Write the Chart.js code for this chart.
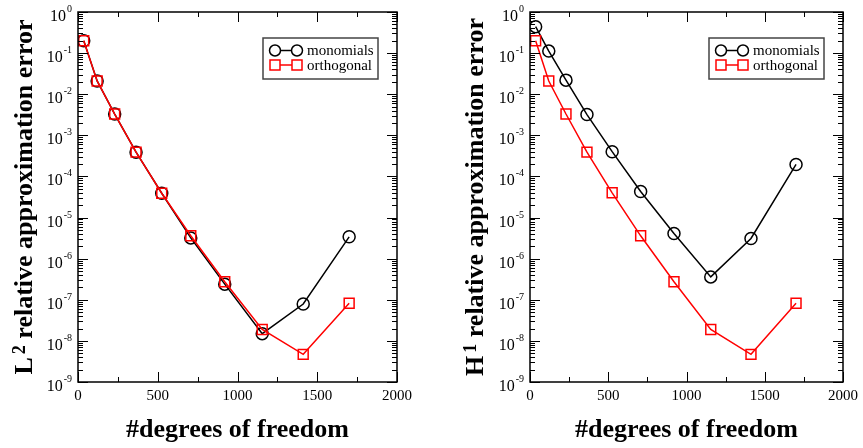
<!DOCTYPE html>
<html>
<head>
<meta charset="utf-8">
<script src="https://cdn.jsdelivr.net/npm/chart.js@4.4.0/dist/chart.umd.min.js"></script>
<style>
html, body { margin: 0; padding: 0; background: #fff; }
#contenedor { position: relative; width: 863px; height: 448px; }
canvas { position: absolute; top: 0; }
</style>
</head>
<body>
<div id="contenedor">
  <canvas id="graficoL2" width="430" height="448" style="left:0"></canvas>
  <canvas id="graficoH1" width="433" height="448" style="left:430px"></canvas>
</div>
<script>
// grados de libertad (eje x)
const grados = [36, 120, 230, 364, 525, 707, 920, 1155, 1412, 1700];

// error L2
const l2Monomios   = [0.2, 0.021, 0.0033, 3.9e-4, 3.9e-5, 3.2e-6, 2.4e-7, 1.5e-8, 7.9e-8, 3.4e-6];
const l2Ortogonal  = [0.2, 0.021, 0.0033, 3.9e-4, 3.9e-5, 3.6e-6, 2.75e-7, 1.9e-8, 4.7e-9, 8.2e-8];

// error H1
const h1Monomios   = [0.44, 0.112, 0.022, 3.2e-3, 4.0e-4, 4.3e-5, 4.1e-6, 3.6e-7, 3.1e-6, 1.96e-4];
const h1Ortogonal  = [0.2, 0.021, 0.0033, 3.9e-4, 4.0e-5, 3.6e-6, 2.75e-7, 1.9e-8, 4.7e-9, 8.2e-8];

const nombresSeries = ['monomials', 'orthogonal'];
const decadas = [1e-9, 1e-8, 1e-7, 1e-6, 1e-5, 1e-4, 1e-3, 1e-2, 1e-1, 1];
const marcasX = [0, 500, 1000, 1500, 2000];

const fuente = '"Liberation Serif", "Times New Roman", serif';

function puntos(valores){
    return grados.map((g, i) => ({x: g, y: valores[i]}));
}

// marco con marcas hacia adentro en los cuatro lados
const marcoPlugin = {
    id: 'marco',
    afterDraw(chart){
        const ctx = chart.ctx;
        const a = chart.chartArea;
        const sx = chart.scales.x, sy = chart.scales.y;
        ctx.save();
        ctx.strokeStyle = '#000';
        ctx.lineWidth = 1.5;
        ctx.strokeRect(a.left, a.top, a.right - a.left, a.bottom - a.top);
        ctx.lineWidth = 1;
        ctx.beginPath();
        for (let v = 0; v <= 2000; v += 250){
            const px = Math.round(sx.getPixelForValue(v)) + 0.5;
            const largo = v % 500 === 0 ? 10 : 5;
            ctx.moveTo(px, a.bottom); ctx.lineTo(px, a.bottom - largo);
            ctx.moveTo(px, a.top); ctx.lineTo(px, a.top + largo);
        }
        decadas.forEach(d => {
            for (let k = 1; k <= 9; k++){
                const v = d * k;
                if (v > 1) break;
                const py = Math.round(sy.getPixelForValue(v)) + 0.5;
                const largo = k === 1 ? 10 : 5;
                ctx.moveTo(a.left, py); ctx.lineTo(a.left + largo, py);
                ctx.moveTo(a.right, py); ctx.lineTo(a.right - largo, py);
            }
        });
        ctx.stroke();

        // etiquetas 10^n del eje y
        ctx.fillStyle = '#000';
        ctx.textAlign = 'left';
        ctx.textBaseline = 'alphabetic';
        sy.ticks.forEach(t => {
            const py = sy.getPixelForValue(t.value);
            const exp = String(Math.round(Math.log10(t.value)));
            ctx.font = '10px ' + fuente;
            const we = ctx.measureText(exp).width;
            ctx.font = '16px ' + fuente;
            const wb = ctx.measureText('10').width;
            const x0 = a.left - 6 - we - 1 - wb;
            ctx.fillText('10', x0, py + 9);
            ctx.font = '10px ' + fuente;
            ctx.fillText(exp, x0 + wb + 1, py);
        });
        ctx.restore();
    }
};

// titulo del eje y con superindice
const tituloYPlugin = {
    id: 'tituloY',
    afterDraw(chart, args, opts){
        const ctx = chart.ctx;
        const a = chart.chartArea;
        const grande = 'bold 26px ' + fuente, chico = 'bold 18px ' + fuente;
        const resto = ' relative approximation error';
        ctx.save();
        ctx.font = grande;
        const w1 = ctx.measureText(opts.letra).width;
        const w3 = ctx.measureText(resto).width;
        ctx.font = chico;
        const w2 = ctx.measureText(opts.indice).width;
        const total = w1 + 3 + w2 + w3;
        ctx.translate(opts.base, (a.top + a.bottom) / 2);
        ctx.rotate(-Math.PI / 2);
        ctx.fillStyle = '#000';
        ctx.textBaseline = 'alphabetic';
        ctx.textAlign = 'left';
        let x = -total / 2;
        ctx.font = grande;
        ctx.fillText(opts.letra, x, 0);
        x += w1 + 3;
        ctx.font = chico;
        ctx.fillText(opts.indice, x, -7);
        x += w2;
        ctx.font = grande;
        ctx.fillText(resto, x, 0);
        ctx.restore();
    }
};

// leyenda dentro del area del grafico
const leyendaPlugin = {
    id: 'leyendaInterna',
    afterDraw(chart){
        const ctx = chart.ctx;
        const a = chart.chartArea;
        const ancho = 115, alto = 41;
        const x0 = a.right - 19 - ancho, y0 = a.top + 26;
        ctx.save();
        ctx.fillStyle = '#fff';
        ctx.fillRect(x0, y0, ancho, alto);
        ctx.strokeStyle = '#444';
        ctx.lineWidth = 1.5;
        ctx.strokeRect(x0, y0, ancho, alto);
        chart.data.datasets.forEach((ds, i) => {
            const yy = y0 + 12.5 + i * 14.5;
            const xa = x0 + 12, xb = x0 + 34;
            ctx.strokeStyle = ds.borderColor;
            ctx.lineWidth = 1.5;
            ctx.beginPath();
            ctx.moveTo(xa, yy); ctx.lineTo(xb, yy);
            ctx.stroke();
            [xa, xb].forEach(px => {
                ctx.beginPath();
                if (ds.pointStyle === 'rect') ctx.rect(px - 5, yy - 5, 10, 10);
                else ctx.arc(px, yy, 5.5, 0, Math.PI * 2);
                ctx.fillStyle = '#fff';
                ctx.fill();
                ctx.stroke();
            });
            ctx.fillStyle = '#000';
            ctx.font = '15px ' + fuente;
            ctx.textBaseline = 'middle';
            ctx.textAlign = 'left';
            ctx.fillText(nombresSeries[i], x0 + 44, yy + 1);
        });
        ctx.restore();
    }
};

function crearGrafico(id, monomios, ortogonal, letra, indice, anchoEjeY, baseTitulo, margenDerecho){
    const lienzo = document.getElementById(id);
    const conjuntos = [
        {
            label: nombresSeries[0], data: puntos(monomios), borderColor: '#000',
            pointStyle: 'circle', pointRadius: 6, pointBorderWidth: 1.5,
            pointBackgroundColor: 'rgba(0,0,0,0)', borderWidth: 1.5, order: 2
        },
        {
            label: nombresSeries[1], data: puntos(ortogonal), borderColor: '#ff0000',
            pointStyle: 'rect', pointRadius: 7, pointBorderWidth: 1.5,
            pointBackgroundColor: 'rgba(0,0,0,0)', borderWidth: 1.5, order: 1
        }
    ];
    return new Chart(lienzo, {
        type: 'line',
        data: { datasets: conjuntos },
        options: {
            responsive: false,
            animation: false,
            devicePixelRatio: 1,
            layout: { padding: { top: 12, right: margenDerecho, left: 0, bottom: 0 } },
            plugins: {
                legend: { display: false },
                tooltip: { enabled: false },
                tituloY: { letra: letra, indice: indice, base: baseTitulo }
            },
            elements: { line: { tension: 0 } },
            scales: {
                x: {
                    type: 'linear', min: 0, max: 2000,
                    afterBuildTicks: s => { s.ticks = marcasX.map(v => ({value: v})); },
                    afterFit: s => { s.height = 66; },
                    grid: { display: false, drawTicks: false },
                    border: { display: false },
                    ticks: { color: '#000', padding: 5, maxRotation: 0, autoSkip: false,
                             callback: v => String(v),
                             font: { family: fuente, size: 15 } },
                    title: { display: true, text: '#degrees of freedom', color: '#000',
                             padding: { top: 0, bottom: 2 },
                             font: { family: fuente, size: 26, weight: 'bold', lineHeight: 1.2 } }
                },
                y: {
                    type: 'logarithmic', min: 1e-9, max: 1,
                    afterBuildTicks: s => { s.ticks = decadas.map(v => ({value: v})); },
                    afterFit: s => { s.width = anchoEjeY; },
                    grid: { display: false, drawTicks: false },
                    border: { display: false },
                    ticks: { display: false },
                    title: { display: false }
                }
            }
        },
        plugins: [marcoPlugin, leyendaPlugin, tituloYPlugin]
    });
}

crearGrafico('graficoL2', l2Monomios, l2Ortogonal, 'L', '2', 78, 32, 33);
crearGrafico('graficoH1', h1Monomios, h1Ortogonal, 'H', '1', 100, 53, 15);
</script>
</body>
</html>
